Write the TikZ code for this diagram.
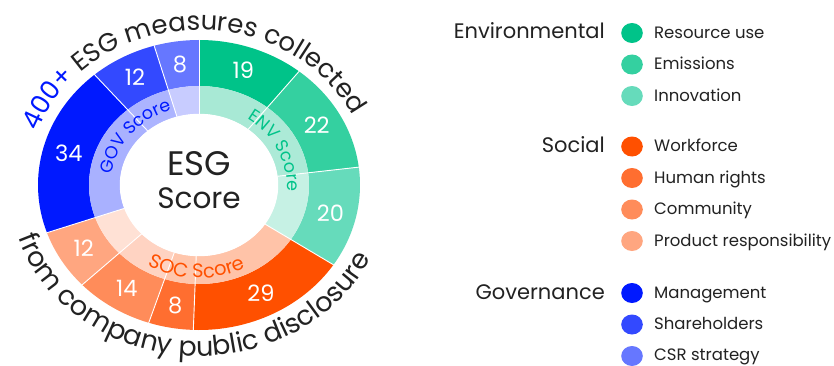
\documentclass[tikz,border=0pt]{standalone}
\usepackage{fontspec}
\setmainfont{Poppins}
\usetikzlibrary{decorations.text,shapes.geometric}
\definecolor{envA}{HTML}{00C389}
\definecolor{envB}{HTML}{34D0A0}
\definecolor{envC}{HTML}{66DBBB}
\definecolor{socA}{HTML}{FF5000}
\definecolor{socB}{HTML}{FF6E30}
\definecolor{socC}{HTML}{FF8C5A}
\definecolor{socD}{HTML}{FFA680}
\definecolor{govA}{HTML}{0019FF}
\definecolor{govB}{HTML}{3349FF}
\definecolor{govC}{HTML}{6677FF}
\definecolor{envAi}{HTML}{A8E9D5}
\definecolor{envBi}{HTML}{ACEAD7}
\definecolor{envCi}{HTML}{C6F1E4}
\definecolor{socAi}{HTML}{FFC3A8}
\definecolor{socBi}{HTML}{FFC6AC}
\definecolor{socCi}{HTML}{FFD3C2}
\definecolor{socDi}{HTML}{FFE1D5}
\definecolor{govAi}{HTML}{A9B1FF}
\definecolor{govBi}{HTML}{ACB4FF}
\definecolor{govCi}{HTML}{C8CCFF}
\definecolor{txt}{HTML}{222222}
\newcommand\mysector[7]{\fill[#1] ({199+#6*cos(#2)},{180+#7*sin(#2)}) arc[x radius=#6, y radius=#7, start angle=#2, end angle=#3] -- ({199+#4*cos(#3)},{180+#5*sin(#3)}) arc[x radius=#4, y radius=#5, start angle=#3, end angle=#2] -- cycle;}
\newcommand\outerseg[3]{\mysector{#1}{#2}{#3}{110}{99}{161}{145}}
\newcommand\innerseg[3]{\mysector{#1}{#2}{#3}{79}{71}{110}{99}}
\tikzset{
  numlbl/.style={text=white, font=\fontsize{22.5}{22.5}\selectfont, inner sep=0pt},
  legdot/.style={inner sep=0pt, minimum width=21.6pt, minimum height=20pt, ellipse},
  legitem/.style={anchor=base west, text=txt, font=\fontsize{16.5}{16.5}\selectfont, inner sep=0pt},
  leghead/.style={anchor=base east, text=txt, font=\fontsize{21}{21}\selectfont, inner sep=0pt},
}
\begin{document}
\begin{tikzpicture}[x=1pt,y=1pt]
\useasboundingbox (0,0) rectangle (834,365);
\fill[white] (0,0) rectangle (834,365);
% outer ring
\outerseg{envA}{90}{51.573}
\outerseg{envB}{51.573}{7.079}
\outerseg{envC}{7.079}{-33.370}
\outerseg{socA}{-33.370}{-92.022}
\outerseg{socB}{-92.022}{-108.202}
\outerseg{socC}{-108.202}{-136.517}
\outerseg{socD}{-136.517}{-160.787}
\outerseg{govA}{-160.787}{-229.551}
\outerseg{govB}{-229.551}{-253.821}
\outerseg{govC}{-253.821}{-270}
% inner ring
\innerseg{envAi}{90}{51.573}
\innerseg{envBi}{51.573}{7.079}
\innerseg{envCi}{7.079}{-33.370}
\innerseg{socAi}{-33.370}{-92.022}
\innerseg{socBi}{-92.022}{-108.202}
\innerseg{socCi}{-108.202}{-136.517}
\innerseg{socDi}{-136.517}{-160.787}
\innerseg{govAi}{-160.787}{-229.551}
\innerseg{govBi}{-229.551}{-253.821}
\innerseg{govCi}{-253.821}{-270}
\fill[white] (199,180) ellipse[x radius=79.2, y radius=71.2];
% separators
\foreach \a in {90,51.573,7.079,-33.370,-92.022,-108.202,-136.517,-160.787,-229.551,-253.821}
  \draw[white, line width=0.9pt] ({199+79*cos(\a)},{180+71*sin(\a)}) -- ({199+161.5*cos(\a)},{180+145.5*sin(\a)});
% numbers
\node[numlbl] (n19) at ({199+135*cos(70.79)},{180+122*sin(70.79)}) {19};
\node[numlbl] (n22) at ({199+135*cos(29.33)},{180+122*sin(29.33)}) {22};
\node[numlbl] (n20) at ({199+135*cos(-13.15)},{180+122*sin(-13.15)}) {20};
\node[numlbl] (n29) at ({199+135*cos(-62.70)},{180+122*sin(-62.70)}) {29};
\node[numlbl] (n8s) at ({199+135*cos(-100.11)},{180+122*sin(-100.11)}) {8};
\node[numlbl] (n14) at ({199+135*cos(-122.36)},{180+122*sin(-122.36)}) {14};
\node[numlbl] (n12s) at ({199+135*cos(-148.65)},{180+122*sin(-148.65)}) {12};
\node[numlbl] (n34) at ({199+135*cos(-195.17)},{180+122*sin(-195.17)}) {34};
\node[numlbl] (n12g) at ({199+135*cos(-241.69)},{180+122*sin(-241.69)}) {12};
\node[numlbl] (n8g) at ({199+135*cos(-261.91)},{180+122*sin(-261.91)}) {8};
% centre
\node[anchor=base, text=txt, inner sep=0pt, font=\fontsize{34}{34}\selectfont] (esg) at (199,190) {ESG};
\node[anchor=base, text=txt, inner sep=0pt, font=\fontsize{29.5}{29.5}\selectfont] (score) at (199,156.7) {Score};
% inner ring labels
\path[decorate, decoration={text along path, text align=center, text={|\fontsize{17.5}{17.5}\selectfont\color{govA}|GOV Score}}]
  ({199+88*cos(232.5)},{180+79*sin(232.5)}) arc[x radius=88, y radius=79, start angle=232.5, end angle=52.5];
\path[decorate, decoration={text along path, text align=center, text={|\fontsize{17.5}{17.5}\selectfont\color{envA}|ENV Score}}]
  ({199+88*cos(114.4)},{180+79*sin(114.4)}) arc[x radius=88, y radius=79, start angle=114.4, end angle=-65.6];
\path[decorate, decoration={text along path, text align=center, text={|\fontsize{19.5}{19.5}\selectfont\color{socA}|SOC Score}}]
  ({199+103*cos(178.3)},{180+93*sin(178.3)}) arc[x radius=103, y radius=93, start angle=178.3, end angle=358.3];
% outer arc texts
\path[decorate, decoration={text along path, text align=center, text={|\fontsize{26}{26}\selectfont\color{govA}|400+|\fontsize{26}{26}\selectfont\color{txt}| ESG measures collected}}]
  ({199+172*cos(183.25)},{180+155*sin(183.25)}) arc[x radius=172, y radius=155, start angle=183.25, end angle=3.25];
\path[decorate, decoration={text along path, text align=center, text={|\fontsize{27}{27}\selectfont\color{txt}|from company public disclosure}}]
  ({199+190*cos(176.2)},{180+171*sin(176.2)}) arc[x radius=190, y radius=171, start angle=176.2, end angle=356.2];
% legend
\node[legdot, fill=envA] (d1) at (632,332) {};
\node[legdot, fill=envB] (d2) at (632,300.5) {};
\node[legdot, fill=envC] (d3) at (632,269) {};
\node[legdot, fill=socA] (d4) at (632,218.5) {};
\node[legdot, fill=socB] (d5) at (632,187) {};
\node[legdot, fill=socC] (d6) at (632,155.5) {};
\node[legdot, fill=socD] (d7) at (632,124) {};
\node[legdot, fill=govA] (d8) at (632,72) {};
\node[legdot, fill=govB] (d9) at (632,40.5) {};
\node[legdot, fill=govC] (d10) at (632,9) {};
\node[legitem] (t1) at (654,326.7) {Resource use};
\node[legitem] (t2) at (654,295.2) {Emissions};
\node[legitem] (t3) at (654,263.7) {Innovation};
\node[legitem] (t4) at (654,213.2) {Workforce};
\node[legitem] (t5) at (654,181.7) {Human rights};
\node[legitem] (t6) at (654,150.2) {Community};
\node[legitem] (t7) at (654,118.7) {Product responsibility};
\node[legitem] (t8) at (654,66.7) {Management};
\node[legitem] (t9) at (654,35.2) {Shareholders};
\node[legitem] (t10) at (654,4.5) {CSR strategy};
\node[leghead] (h1) at (605,326) {Environmental};
\node[leghead] (h2) at (605,212.5) {Social};
\node[leghead] (h3) at (605,66) {Governance};
\end{tikzpicture}
\end{document}
